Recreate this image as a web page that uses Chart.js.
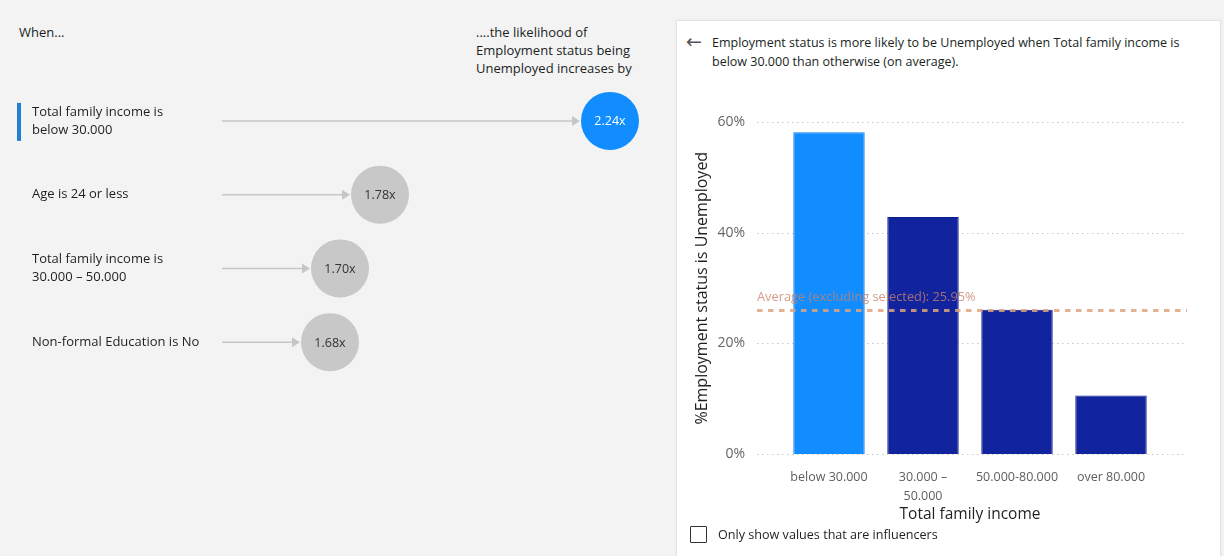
<!DOCTYPE html>
<html><head><meta charset="utf-8">
<script src="https://cdn.jsdelivr.net/npm/chart.js@4.4.1/dist/chart.umd.min.js"></script>
<style>
html,body{margin:0;padding:0;width:1224px;height:556px;overflow:hidden;background:#f3f3f3;font-family:"Segoe UI","Open Sans",sans-serif;color:#201f1e;}
.abs{position:absolute;}
.hdr{font-size:13px;line-height:18px;white-space:nowrap;}
#card{left:676px;top:20px;width:545px;height:545px;background:#fff;border:1px solid #e3e3e3;box-sizing:border-box;box-shadow:0 0 2px rgba(0,0,0,0.06);}
#ctitle{left:712px;top:33px;font-size:12.5px;line-height:19px;white-space:nowrap;}
#carrow{left:686px;top:31px;font-size:19px;line-height:20px;color:#555;font-family:"DejaVu Sans",sans-serif;}
#chk{left:690px;top:526px;width:17px;height:17px;border:1.5px solid #333;box-sizing:border-box;background:#fff;border-radius:1px;}
#chkl{left:718px;top:525px;font-size:12.6px;line-height:19px;white-space:nowrap;}
</style></head>
<body>
<div class="abs hdr" style="left:19px;top:23px;">When...</div>
<div class="abs hdr" style="left:476px;top:23px;">....the likelihood of<br>Employment status being<br>Unemployed increases by</div>
<canvas id="lc" class="abs" style="left:0;top:0;" width="672" height="556"></canvas>
<div id="card" class="abs"></div>
<div id="carrow" class="abs">&#8592;</div>
<div id="ctitle" class="abs">Employment status is more likely to be Unemployed when Total family income is<br>below 30.000 than otherwise (on average).</div>
<canvas id="rc" class="abs" style="left:676px;top:77px;" width="545" height="453"></canvas>
<div id="chk" class="abs"></div>
<div id="chkl" class="abs">Only show values that are influencers</div>
<script>
// ---- Data: key influencers (left) ----
const influencerLabels = [
  ["Total family income is", "below 30.000"],
  "Age is 24 or less",
  ["Total family income is", "30.000 \u2013 50.000"],
  "Non-formal Education is No"
];
const influencerFactors = [2.24, 1.78, 1.70, 1.68];
const selectedIndex = 0;

// ---- Data: detail column chart (right) ----
const incomeCategories = ["below 30.000", ["30.000 \u2013", "50.000"], "50.000-80.000", "over 80.000"];
const unemployedPct = [58.2, 42.9, 26.1, 10.6];
const averageExcludingSelected = 25.95;
const yTicks = [0, 20, 40, 60];

// ---- Styles ----
const FONT = '"Segoe UI","Open Sans",sans-serif';
const blue = '#118dff', gray = '#c8c8c8', navy = '#12239e';
const bubbleR = 29;

const leftDecor = {
  id: 'leftDecor',
  beforeDatasetsDraw(chart) {
    const ctx = chart.ctx, ca = chart.chartArea;
    const xs = chart.scales.x, ys = chart.scales.y;
    ctx.save();
    influencerFactors.forEach((f, i) => {
      const px = xs.getPixelForValue(f), py = ys.getPixelForValue(i);
      const tip = px - bubbleR;
      ctx.strokeStyle = '#c6c6c6'; ctx.lineWidth = 1.5;
      ctx.beginPath(); ctx.moveTo(ca.left, py); ctx.lineTo(tip - 7, py); ctx.stroke();
      ctx.fillStyle = '#c6c6c6';
      ctx.beginPath(); ctx.moveTo(tip - 9, py - 5); ctx.lineTo(tip - 1, py); ctx.lineTo(tip - 9, py + 5); ctx.closePath(); ctx.fill();
    });
    const sy = ys.getPixelForValue(selectedIndex);
    ctx.fillStyle = '#1f7fd0';
    ctx.fillRect(17, sy - 18, 4, 38);
    ctx.restore();
  },
  afterDatasetsDraw(chart) {
    const ctx = chart.ctx;
    const meta = chart.getDatasetMeta(0);
    ctx.save();
    ctx.font = '12.5px ' + FONT; ctx.textAlign = 'center'; ctx.textBaseline = 'middle';
    meta.data.forEach((pt, i) => {
      ctx.fillStyle = i === selectedIndex ? '#ffffff' : '#333333';
      ctx.fillText(influencerFactors[i].toFixed(2) + 'x', pt.x, pt.y + 1);
    });
    ctx.restore();
  }
};

new Chart(document.getElementById('lc'), {
  type: 'scatter',
  data: {
    datasets: [{
      data: influencerFactors.map((f, i) => ({x: f, y: i})),
      pointRadius: bubbleR, pointHoverRadius: bubbleR,
      backgroundColor: influencerFactors.map((f, i) => i === selectedIndex ? blue : gray),
      borderWidth: 0, clip: false
    }]
  },
  options: {
    responsive: false, animation: false, events: [],
    layout: {padding: {left: 32, top: 84, right: 32, bottom: 177}},
    plugins: {legend: {display: false}, tooltip: {enabled: false}},
    scales: {
      x: {type: 'linear', display: false, min: 1.464, max: 2.30},
      y: {
        type: 'linear', reverse: true, min: -0.5, max: 3.5,
        grid: {display: false, drawTicks: false}, border: {display: false},
        afterBuildTicks: s => { s.ticks = influencerLabels.map((l, i) => ({value: i})); },
        afterFit: s => { s.width = 190; },
        ticks: {
          crossAlign: 'far', padding: 0, color: '#201f1e',
          font: {family: FONT, size: 13, lineHeight: '18px'},
          callback: v => influencerLabels[v]
        }
      }
    }
  },
  plugins: [leftDecor]
});

const rightDecor = {
  id: 'rightDecor',
  beforeDatasetsDraw(chart) {
    const ctx = chart.ctx, ca = chart.chartArea, ys = chart.scales.y;
    ctx.save();
    ctx.strokeStyle = '#c9c9c9'; ctx.lineWidth = 1; ctx.setLineDash([1.5, 3.5]);
    yTicks.forEach(t => {
      const y = Math.round(ys.getPixelForValue(t)) + 0.5;
      ctx.beginPath(); ctx.moveTo(ca.left - 25, y); ctx.lineTo(ca.right + 29, y); ctx.stroke();
    });
    ctx.restore();
  },
  afterDatasetsDraw(chart) {
    const ctx = chart.ctx, ca = chart.chartArea, ys = chart.scales.y;
    const y = ys.getPixelForValue(averageExcludingSelected);
    ctx.save();
    ctx.strokeStyle = 'rgba(222,164,128,0.85)'; ctx.lineWidth = 3; ctx.setLineDash([5.5, 5.5]);
    ctx.beginPath(); ctx.moveTo(ca.left - 25, y); ctx.lineTo(ca.right + 29, y); ctx.stroke();
    ctx.setLineDash([]);
    ctx.font = '12.8px ' + FONT; ctx.fillStyle = 'rgba(200,130,108,0.8)';
    ctx.textAlign = 'left'; ctx.textBaseline = 'middle';
    ctx.fillText('Average (excluding selected): ' + averageExcludingSelected.toFixed(2) + '%', ca.left - 25, y - 13);
    ctx.restore();
  }
};

new Chart(document.getElementById('rc'), {
  type: 'bar',
  data: {
    labels: incomeCategories,
    datasets: [{
      data: unemployedPct,
      backgroundColor: unemployedPct.map((v, i) => i === selectedIndex ? blue : navy),
      borderColor: unemployedPct.map((v, i) => i === selectedIndex ? '#0f7fe6' : '#0e1d8a'),
      borderWidth: 1,
      categoryPercentage: 1, barPercentage: 0.76
    }]
  },
  options: {
    responsive: false, animation: false, events: [],
    layout: {padding: {left: 0, top: 20, right: 63, bottom: 0}},
    plugins: {legend: {display: false}, tooltip: {enabled: false}},
    scales: {
      x: {
        grid: {display: false, drawTicks: false}, border: {display: false},
        afterFit: s => { s.height = 76; },
        ticks: {padding: 14, color: '#605e5c', maxRotation: 0, autoSkip: false,
          font: {family: FONT, size: 12.5, lineHeight: '19px'}},
        title: {display: true, text: 'Total family income', color: '#201f1e',
          font: {family: FONT, size: 15.5, lineHeight: 1.2}, padding: {top: 0, bottom: 6}}
      },
      y: {
        min: 0, max: 60,
        grid: {display: false, drawTicks: false}, border: {display: false},
        afterBuildTicks: s => { s.ticks = yTicks.map(v => ({value: v})); },
        afterFit: s => { s.width = 106; },
        ticks: {padding: 37, color: '#666666', font: {family: FONT, size: 14},
          callback: v => v + '%'},
        title: {display: true, text: '%Employment status is Unemployed', color: '#201f1e',
          font: {family: FONT, size: 16, lineHeight: 1.2}, padding: {top: 17, bottom: 0}}
      }
    }
  },
  plugins: [rightDecor]
});
</script>
</body></html>
